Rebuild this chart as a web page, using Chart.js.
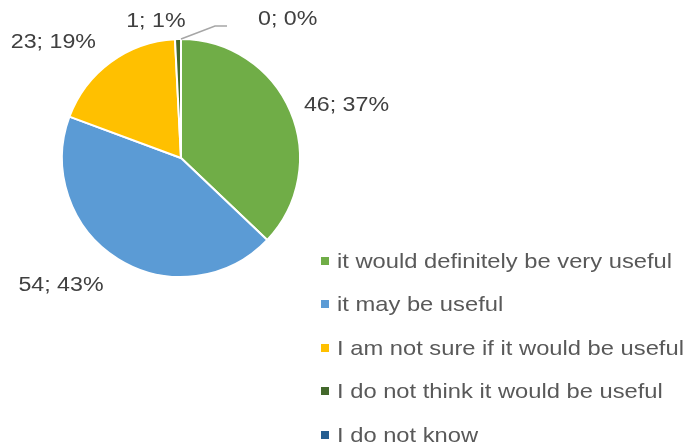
<!DOCTYPE html>
<html>
<head>
<meta charset="utf-8">
<script src="https://cdn.jsdelivr.net/npm/chart.js@4"></script>
<style>
  html, body { margin: 0; padding: 0; background: #fff; }
  #wrap { position: relative; width: 689px; height: 448px; }
  #pie { position: absolute; left: 0; top: 0; }
  #legend { position: absolute; left: 321px; top: 239px; margin: 0; padding: 0; list-style: none; }
  #legend li { height: 43.5px; display: flex; align-items: center; white-space: nowrap; }
  #legend .box { width: 8px; height: 8px; margin-right: 8px; flex: none; }
  #legend .txt {
    font: 21px "Liberation Sans", Arial, sans-serif; color: #595959;
    display: inline-block; transform: scaleX(1.13); transform-origin: left center;
  }
</style>
</head>
<body>
<div id="wrap">
  <canvas id="pie" width="689" height="448"></canvas>
  <ul id="legend"></ul>
</div>
<script>
const answers = [
  "it would definitely be very useful",
  "it may be useful",
  "I am not sure if it would be useful",
  "I do not think it would be useful",
  "I do not know",
];
const counts = [46, 54, 23, 1, 0];
// rounded shares as shown next to each slice (they add up to 100)
const shares = [37, 43, 19, 1, 0];
const sliceColors = ["#70AD47", "#5B9BD5", "#FFC000", "#43682B", "#255E91"];

// small per-label shifts so the labels sit where the outside-end layout puts them
const labelShift = [[-3, 3], [-5, 4], [-4, 0], [8, 6], [0, 0]];

// value; percent labels outside the slices, with a leader line for empty slices
const pieLabels = {
  id: "pieLabels",
  afterDatasetsDraw(chart) {
    const ctx = chart.ctx;
    const meta = chart.getDatasetMeta(0);
    const data = chart.data.datasets[0].data;
    const stretch = 1.16;
    const capH = 14;
    ctx.save();
    ctx.font = '20px "Liberation Sans", Arial, sans-serif';
    ctx.fillStyle = "#404040";
    ctx.textBaseline = "middle";
    meta.data.forEach((arc, i) => {
      const { x, y, startAngle, endAngle, outerRadius } = arc.getProps(
        ["x", "y", "startAngle", "endAngle", "outerRadius"], true);
      const text = data[i] + "; " + shares[i] + "%";
      const w = ctx.measureText(text).width * stretch;
      const mid = (startAngle + endAngle) / 2;
      const cx = Math.cos(mid), cy = Math.sin(mid);
      let tx, ty;
      if (data[i] === 0) {
        // leader line from the slice edge up and to the right
        const sx = x + cx * outerRadius, sy = y + cy * outerRadius;
        const ex = sx + 34, ey = sy - 13;
        ctx.strokeStyle = "#A6A6A6";
        ctx.lineWidth = 1.5;
        ctx.beginPath();
        ctx.moveTo(sx, sy);
        ctx.lineTo(ex, ey);
        ctx.lineTo(ex + 12, ey);
        ctx.stroke();
        tx = ex + 43 + w / 2;
        ty = ey - 8;
      } else {
        const r = outerRadius + 18;
        const px = x + cx * r, py = y + cy * r;
        tx = px + Math.sign(cx || 1) * w / 2 + labelShift[i][0];
        ty = py + cy * capH / 2 + labelShift[i][1];
      }
      ctx.save();
      ctx.translate(tx - w / 2, ty);
      ctx.scale(stretch, 1);
      ctx.textAlign = "left";
      ctx.fillText(text, 0, 1);
      ctx.restore();
    });
    ctx.restore();
  },
};

const chart = new Chart(document.getElementById("pie").getContext("2d"), {
  type: "pie",
  data: {
    labels: answers,
    datasets: [{
      data: counts,
      backgroundColor: sliceColors,
      borderColor: "#ffffff",
      borderWidth: 2,
    }],
  },
  options: {
    responsive: false,
    animation: false,
    layout: { padding: { left: 61, top: 38, right: 388, bottom: 170 } },
    plugins: {
      legend: { display: false },
      tooltip: { enabled: false },
    },
  },
  plugins: [pieLabels],
});

// legend entries built from the chart's own legend items
const legendEl = document.getElementById("legend");
chart.options.plugins.legend.labels.generateLabels(chart).forEach((item) => {
  const li = document.createElement("li");
  const box = document.createElement("span");
  box.className = "box";
  box.style.background = item.fillStyle;
  const txt = document.createElement("span");
  txt.className = "txt";
  txt.textContent = item.text;
  li.appendChild(box);
  li.appendChild(txt);
  legendEl.appendChild(li);
});
</script>
</body>
</html>
